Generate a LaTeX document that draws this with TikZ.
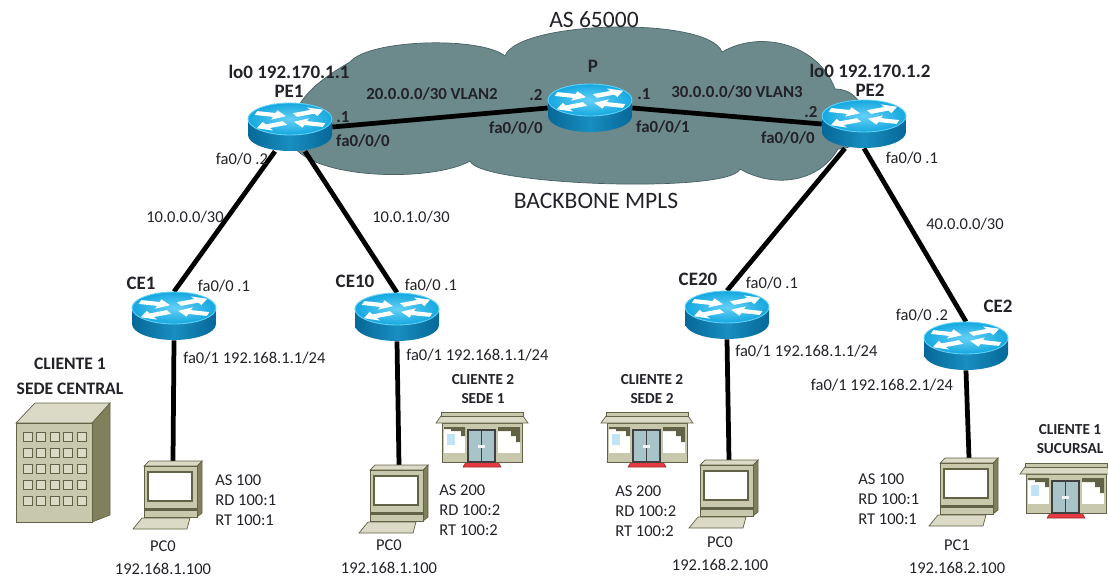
\documentclass[tikz,border=0pt]{standalone}
\usepackage{fontspec}
\setmainfont{Carlito}
\usepackage{xcolor}
\usepackage{tikz}

\definecolor{cloudfill}{RGB}{108,138,140}
\definecolor{cloudline}{RGB}{72,96,100}
\definecolor{rtop}{RGB}{20,168,224}
\definecolor{rtoplight}{RGB}{100,208,246}
\definecolor{rside}{RGB}{6,104,152}
\definecolor{rsidelight}{RGB}{24,142,192}
\definecolor{olivefill}{RGB}{200,200,172}
\definecolor{olivelight}{RGB}{218,218,198}
\definecolor{olivedark}{RGB}{128,128,92}
\definecolor{oliveline}{RGB}{98,98,70}
\definecolor{doorglass}{RGB}{168,196,200}
\definecolor{matred}{RGB}{228,58,64}
\definecolor{winblue}{RGB}{192,228,246}
\definecolor{txt}{RGB}{34,34,40}

\begin{document}
\begin{tikzpicture}[x=0.2mm, y=0.2mm,
  every node/.style={font=\fontsize{9.4}{11.4}\selectfont, text=txt, inner sep=0pt},
  blbl/.style={font=\fontsize{9.6}{11.4}\selectfont\bfseries},
  rname/.style={font=\fontsize{10.8}{10.8}\selectfont\bfseries, align=center},
  title/.style={font=\fontsize{13.4}{15}\selectfont},
  client/.style={font=\fontsize{10}{14.2}\selectfont\bfseries, align=center},
  smallclient/.style={font=\fontsize{8.7}{10.8}\selectfont\bfseries, align=center},
  vrf/.style={align=left, anchor=west},
  pclbl/.style={font=\fontsize{9.4}{13}\selectfont, align=center},
  rbox/.style={minimum width=16.8mm, minimum height=9.6mm},
  pcbox/.style={minimum width=11.6mm, minimum height=13.6mm, anchor=north},
  link/.style={line width=0.95mm, black},
  cloud/.style={fill=cloudfill, draw=cloudline, line width=0.4pt},
  pics/router/.style={code={
    \shade[left color=rside, right color=rside, middle color=rsidelight]
      (-42,8) -- (-42,-8) arc[start angle=180, end angle=360, x radius=42, y radius=16] -- (42,8) -- cycle;
    \shade[inner color=rtoplight, outer color=rtop] (0,8) ellipse[x radius=42, y radius=16];
    \draw[rtoplight, line width=0.5pt] (0,8) ellipse[x radius=42, y radius=16];
    \begin{scope}[shift={(0,8)}, yscale=0.4]
      \foreach \sx/\sy/\ang in {-34/15/-15, 5/10/25, -5/-10/205, 34/-15/165}
        \fill[white, shift={(\sx,\sy)}, rotate=\ang]
          (0,-5) -- (19,-5) -- (19,-12) -- (31,0) -- (19,12) -- (19,5) -- (0,5) -- cycle;
    \end{scope}
  }},
  pics/pc/.style={code={
    \filldraw[fill=olivedark, draw=oliveline] (24,-5) -- (29,0) -- (29,-52) -- (24,-56) -- cycle;
    \filldraw[fill=olivelight, draw=oliveline] (-29,-5) -- (-24,0) -- (29,0) -- (24,-5) -- cycle;
    \filldraw[fill=olivefill, draw=oliveline] (-29,-5) rectangle (24,-47);
    \filldraw[fill=white, draw=oliveline, line width=0.8pt] (-25,-11) rectangle (19,-40);
    \filldraw[fill=olivefill, draw=oliveline] (-29,-47) rectangle (24,-56);
    \draw[oliveline, line width=0.9pt] (-29,-49) -- (24,-49);
    \filldraw[fill=olivelight, draw=oliveline] (-31,-57) -- (17,-57) -- (14,-68) -- (-40,-68) -- cycle;
  }},
  pics/shop/.style={code={
    \filldraw[fill=matred, draw=matred!70!black, line width=0.3pt] (-16,0) -- (16,0) -- (19,-5) -- (-19,-5) -- cycle;
    \filldraw[fill=olivefill, draw=oliveline] (-40,0) rectangle (40,39);
    \filldraw[fill=olivelight, draw=oliveline] (-46,39) -- (46,39) -- (41,46) -- (-41,46) -- cycle;
    \filldraw[fill=olivefill, draw=oliveline] (-41,46) rectangle (41,50);
    % shop windows
    \fill[white] (-38,9) rectangle (-17,35);
    \fill[oliveline] (-38,35) -- (-17,35) -- (-17,26) -- (-21,26) -- (-21,31) -- (-31,31) -- (-31,33) -- (-38,33) -- cycle;
    \fill[winblue] (-35,17) rectangle (-27,28);
    \fill[white] (16,9) rectangle (38,35);
    \fill[oliveline] (16,35) -- (38,35) -- (38,20) -- (34,20) -- (34,26) -- (29,26) -- (29,31) -- (16,31) -- cycle;
    % door
    \filldraw[fill=doorglass, draw=darkgray, line width=0.8pt] (-14,0) rectangle (13,32);
    \draw[darkgray, line width=0.8pt] (-0.5,0) -- (-0.5,32);
    \fill[white!85!doorglass] (-4,14) rectangle (3,17);
  }},
]
\useasboundingbox (0,0) rectangle (1108,579);

% routers and hosts
\node[rbox] (pe1) at (290,452) {};
\node[rbox] (p) at (590,471) {};
\node[rbox] (pe2) at (864,455) {};
\node[rbox] (ce1) at (174,263) {};
\node[rbox] (ce10) at (397,262) {};
\node[rbox] (ce20) at (727,264) {};
\node[rbox] (ce2) at (966,233) {};
\node[pcbox] (pc0a) at (173,118) {};
\node[pcbox] (pc0b) at (399,114) {};
\node[pcbox] (pc0c) at (729,119) {};
\node[pcbox] (pc1) at (969,121) {};

% MPLS cloud
\draw[cloud] (292,435)
  to[out=100,in=210] (350,517)
  to[out=50,in=140,looseness=.5] (505,523)
  to[out=70,in=110,looseness=.45] (722,527)
  to[out=30,in=110] (835,490)
  to[out=0,in=0,looseness=1.6] (838,430)
  to[out=-120,in=-30] (740,410)
  to[out=-110,in=-70,looseness=.25] (470,418)
  to[out=-150,in=-60,looseness=.6] (292,435)
  -- cycle;

% links
\draw[link] (pe1.east) -- (p.west);
\draw[link] (p.east) -- (pe2.west);
\draw[link] ([xshift=-3mm]pe1.south) -- (ce1.north);
\draw[link] ([xshift=3mm]pe1.south) -- (ce10.north);
\draw[link] ([xshift=-3.8mm]pe2.south) -- (ce20.north);
\draw[link] (pe2.south) -- (ce2.north);
\draw[link] (ce1.south) -- (pc0a.north);
\draw[link] (ce10.south) -- (pc0b.north);
\draw[link] (ce20.south) -- (pc0c.north);
\draw[link] (ce2.south) -- (pc1.north);

% icons
\foreach \r in {pe1,p,pe2,ce1,ce10,ce20,ce2}
  \pic at (\r) {router};
\foreach \c in {pc0a,pc0b,pc0c,pc1}
  \pic at (\c.north) {pc};
\pic at (482,117) {shop};
\pic at (647,117) {shop};
\pic at (1066,66) {shop};

% head office building
\filldraw[fill=olivedark, draw=oliveline] (92,57) -- (110,64) -- (110,176) -- (92,156) -- cycle;
\filldraw[fill=olivelight, draw=oliveline] (16,156) -- (92,156) -- (110,176) -- (35,176) -- cycle;
\filldraw[fill=olivefill, draw=oliveline] (16,57) rectangle (92,156);
\foreach \c in {0,...,4}
  \foreach \r in {0,...,4}
    \filldraw[fill=olivelight, draw=oliveline] ({23+13.5*\c},{147-16*\r}) rectangle ++(9,-9);

% backbone text
\node[title] (asn) at (594,559) {AS 65000};
\node[title] (bbone) at (596,378) {BACKBONE MPLS};
\node[rname] (pe1name) at (289,498) {lo0 192.170.1.1\\PE1};
\node[rname] (pname) at (593,513) {P};
\node[rname] (pe2name) at (870,499) {lo0 192.170.1.2\\PE2};
\node[blbl] (vlan2) at (432,485) {20.0.0.0/30 VLAN2};
\node[blbl] (pe1ip) at (343,462) {.1};
\node[blbl] (pe1if) at (363,438) {fa0/0/0};
\node[blbl] (pip1) at (536,484) {.2};
\node[blbl] (pif1) at (516,451) {fa0/0/0};
\node[blbl] (pip2) at (644,485) {.1};
\node[blbl] (vlan3) at (737,487) {30.0.0.0/30 VLAN3};
\node[blbl] (pif2) at (663,452) {fa0/0/1};
\node[blbl] (pe2ip) at (811,467) {.2};
\node[blbl] (pe2if) at (788,441) {fa0/0/0};

% access links
\node (pe1down) at (242,420) {fa0/0 .2};
\node (pe2down) at (912,421) {fa0/0 .1};
\node (net1) at (185,362) {10.0.0.0/30};
\node (net2) at (411,362) {10.0.1.0/30};
\node (net4) at (965,355) {40.0.0.0/30};

% customer edges
\node[rname] (ce1name) at (141,296) {CE1};
\node (ce1up) at (224,293) {fa0/0 .1};
\node[rname] (ce10name) at (355,298) {CE10};
\node (ce10up) at (431,294) {fa0/0 .1};
\node[rname] (ce20name) at (698,300) {CE20};
\node (ce20up) at (772,296) {fa0/0 .1};
\node[rname] (ce2name) at (998,273) {CE2};
\node (ce2up) at (922,264) {fa0/0 .2};
\node[anchor=west] (ce1lan) at (183,221) {fa0/1 192.168.1.1/24};
\node[anchor=west] (ce10lan) at (406,224) {fa0/1 192.168.1.1/24};
\node[anchor=west] (ce20lan) at (735,228) {fa0/1 192.168.1.1/24};
\node (ce2lan) at (882,194) {fa0/1 192.168.2.1/24};

% sites
\node[client] (site1) at (70,203) {CLIENTE 1\\SEDE CENTRAL};
\node[smallclient] (site2) at (483,190) {CLIENTE 2\\SEDE 1};
\node[smallclient] (site3) at (652,190) {CLIENTE 2\\SEDE 2};
\node[smallclient] (site4) at (1070,140) {CLIENTE 1\\SUCURSAL};
\node[vrf] (vrf1) at (215,79) {AS 100\\RD 100:1\\RT 100:1};
\node[vrf] (vrf2) at (439,69) {AS 200\\RD 100:2\\RT 100:2};
\node[vrf] (vrf3) at (615,68) {AS 200\\RD 100:2\\RT 100:2};
\node[vrf] (vrf4) at (858,80) {AS 100\\RD 100:1\\RT 100:1};
\node[pclbl] (pc0alabel) at (163,21) {PC0\\192.168.1.100};
\node[pclbl] (pc0blabel) at (389,22) {PC0\\192.168.1.100};
\node[pclbl] (pc0clabel) at (720,25) {PC0\\192.168.2.100};
\node[pclbl] (pc1label) at (957,22) {PC1\\192.168.2.100};
\end{tikzpicture}
\end{document}
